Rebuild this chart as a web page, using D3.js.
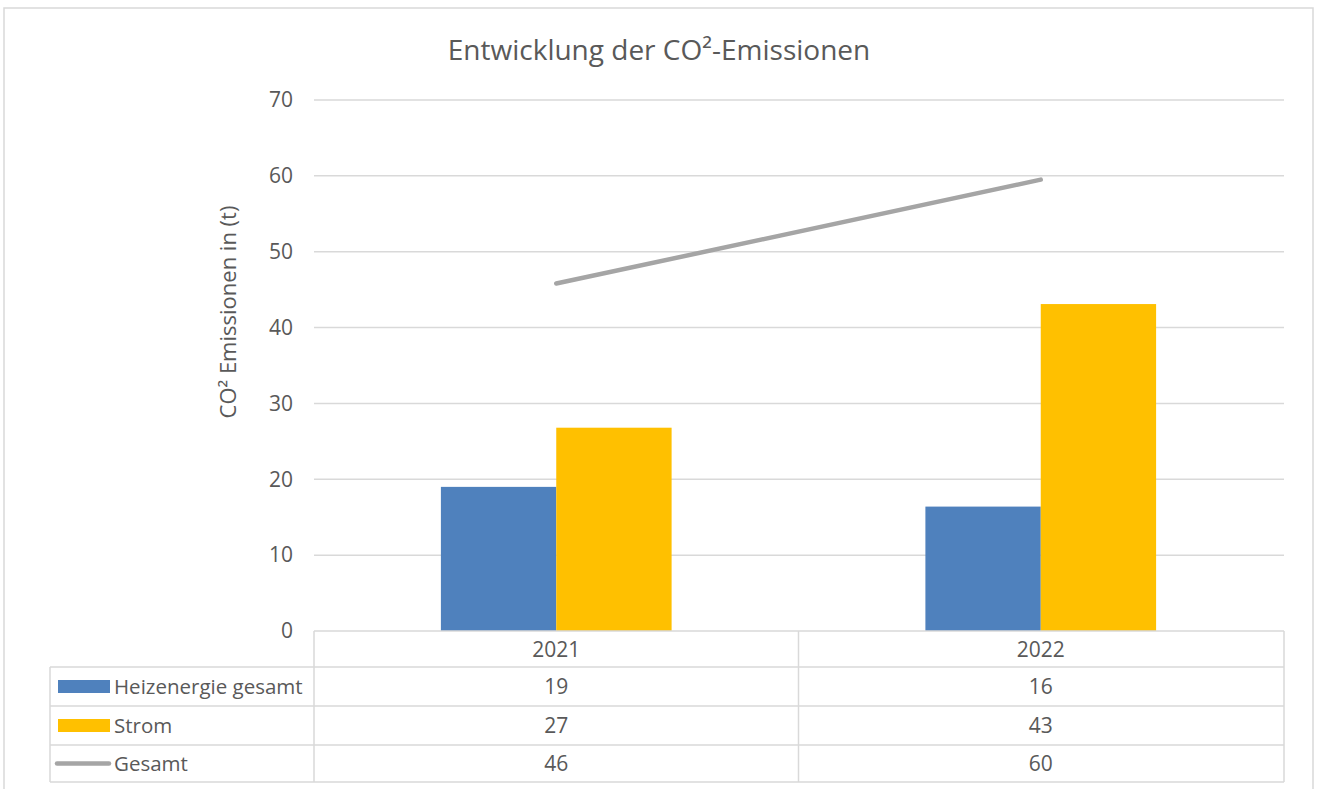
<!DOCTYPE html>
<html>
<head>
<meta charset="utf-8">
<script src="https://cdn.jsdelivr.net/npm/d3@7"></script>
<style>
  body { margin: 0; background: #fff; }
  text { font-family: "Open Sans", sans-serif; fill: #595959; }
</style>
</head>
<body>
<div class="holder"></div>
<script>
// data
var years = ['2021', '2022']
var seriesNames = ['Heizenergie gesamt', 'Strom', 'Gesamt']
var heizenergie = [19.0, 16.4]
var strom = [26.8, 43.1]
var gesamt = [45.8, 59.5]
var yTicks = [0, 10, 20, 30, 40, 50, 60, 70]

var W = 1317, H = 789
var plotL = 314, plotR = 1283, plotT = 100, plotB = 631
var tableLeft = 50
var rowLines = [631, 667, 706, 745, 782]
var grey = '#595959', lineCol = '#d9d9d9'
var colors = { 'Heizenergie gesamt': '#4f81bd', 'Strom': '#ffc000', 'Gesamt': '#a5a5a5' }

var svg = d3.select('.holder').append('svg')
  .attr('width', W)
  .attr('height', H)

svg.append('rect')
  .attr('width', W).attr('height', H)
  .attr('fill', '#fff')

// outer chart border
svg.append('rect')
  .attr('x', 4).attr('y', 8)
  .attr('width', 1309).attr('height', 820)
  .attr('fill', 'none')
  .attr('stroke', lineCol)
  .attr('stroke-width', 1.5)

var x = d3.scaleBand().domain(years).range([plotL, plotR])
var xSub = d3.scaleBand().domain(['Heizenergie gesamt', 'Strom'])
  .range([0, x.bandwidth()])
  .paddingOuter(1.1)
var y = d3.scaleLinear().domain([0, 70]).range([plotB, plotT])

// gridlines
svg.append('g').selectAll('line')
  .data(yTicks.filter(function(d) { return d > 0 }))
  .enter().append('line')
  .attr('x1', plotL).attr('x2', plotR + 1)
  .attr('y1', function(d) { return y(d) })
  .attr('y2', function(d) { return y(d) })
  .attr('stroke', lineCol)
  .attr('stroke-width', 1.5)

// y tick labels
var yAxis = d3.axisLeft(y).tickValues(yTicks).tickSize(0).tickPadding(0)
var yG = svg.append('g')
  .attr('transform', 'translate(293,0)')
  .call(yAxis)
yG.select('.domain').remove()
yG.selectAll('text')
  .style('font-size', '21px')
  .style('font-family', '"Open Sans", sans-serif')
  .attr('fill', grey)

svg.append('text')
  .attr('transform', 'translate(236,312) rotate(-90)')
  .attr('text-anchor', 'middle')
  .style('font-size', '22px')
  .text('CO² Emissionen in (t)')

// title
svg.append('text')
  .attr('x', 659).attr('y', 60)
  .attr('text-anchor', 'middle')
  .style('font-size', '28px')
  .text('Entwicklung der CO²-Emissionen')

// bars
var barData = []
years.forEach(function(yr, i) {
  barData.push({ year: yr, key: 'Heizenergie gesamt', value: heizenergie[i] })
  barData.push({ year: yr, key: 'Strom', value: strom[i] })
})

svg.append('g').selectAll('rect')
  .data(barData)
  .enter().append('rect')
  .attr('x', function(d) { return x(d.year) + xSub(d.key) })
  .attr('width', xSub.bandwidth())
  .attr('y', function(d) { return y(d.value) })
  .attr('height', function(d) { return y(0) - y(d.value) })
  .attr('fill', function(d) { return colors[d.key] })

// total line
var line = d3.line()
  .x(function(d, i) { return x(years[i]) + x.bandwidth() / 2 })
  .y(function(d) { return y(d) })

svg.append('path')
  .datum(gesamt)
  .attr('d', line)
  .attr('fill', 'none')
  .attr('stroke', colors['Gesamt'])
  .attr('stroke-width', 4.5)
  .attr('stroke-linecap', 'round')

// data table
var table = svg.append('g').attr('stroke', lineCol).attr('stroke-width', 1.5)

rowLines.forEach(function(ry, i) {
  table.append('line')
    .attr('x1', i === 0 ? plotL : tableLeft).attr('x2', plotR + 1)
    .attr('y1', ry).attr('y2', ry)
})
table.append('line')
  .attr('x1', tableLeft).attr('x2', tableLeft)
  .attr('y1', rowLines[1]).attr('y2', rowLines[4])
years.concat(['end']).forEach(function(yr, i) {
  var xx = i < years.length ? x(yr) : plotR + 1
  table.append('line')
    .attr('x1', xx).attr('x2', xx)
    .attr('y1', rowLines[0]).attr('y2', rowLines[4])
})

// category labels
svg.append('g').selectAll('text')
  .data(years)
  .enter().append('text')
  .attr('x', function(d) { return x(d) + x.bandwidth() / 2 })
  .attr('y', (rowLines[0] + rowLines[1]) / 2)
  .attr('dy', '0.36em')
  .attr('text-anchor', 'middle')
  .style('font-size', '21px')
  .text(function(d) { return d })

var rows = [heizenergie, strom, gesamt]
rows.forEach(function(vals, r) {
  var cy = (rowLines[r + 1] + rowLines[r + 2]) / 2
  var name = seriesNames[r]

  svg.append('g').selectAll('text')
    .data(vals)
    .enter().append('text')
    .attr('x', function(d, i) { return x(years[i]) + x.bandwidth() / 2 })
    .attr('y', cy)
    .attr('dy', '0.36em')
    .attr('text-anchor', 'middle')
    .style('font-size', '21px')
    .text(function(d) { return Math.round(d) })

  // legend key
  if (name === 'Gesamt') {
    svg.append('line')
      .attr('x1', 57).attr('x2', 109)
      .attr('y1', cy).attr('y2', cy)
      .attr('stroke', colors[name])
      .attr('stroke-width', 4.5)
      .attr('stroke-linecap', 'round')
  } else {
    svg.append('rect')
      .attr('x', 58).attr('y', cy - 6.5)
      .attr('width', 52).attr('height', 13)
      .attr('fill', colors[name])
  }

  svg.append('text')
    .attr('x', 114).attr('y', cy)
    .attr('dy', '0.36em')
    .style('font-size', '20.5px')
    .text(name)
})
</script>
</body>
</html>
